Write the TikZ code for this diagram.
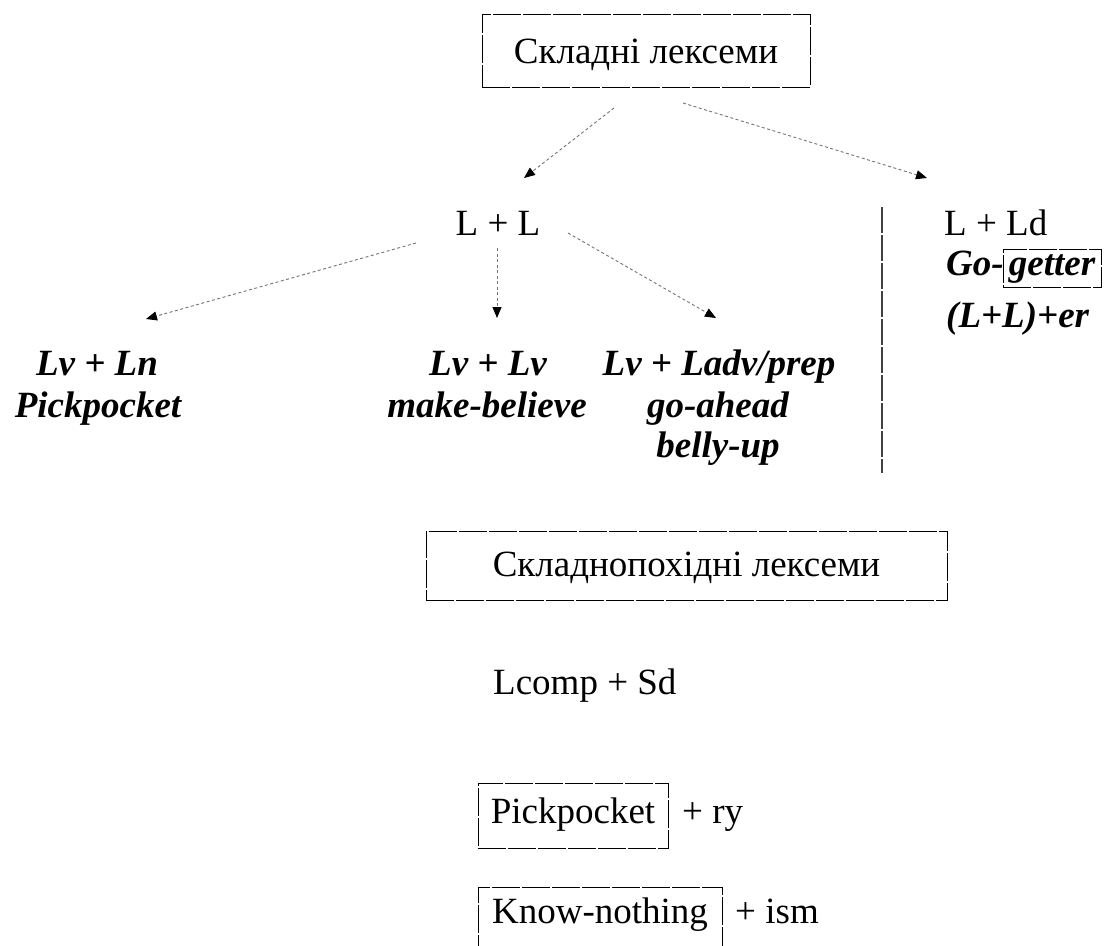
\documentclass[tikz,border=0pt]{standalone}
\usepackage{fontspec}
\setmainfont{Liberation Serif}
\usetikzlibrary{arrows.meta}
\begin{document}
\begin{tikzpicture}[x=1pt,y=-1pt,
  lbl/.style={inner sep=0pt, font=\fontsize{37}{41}\selectfont},
  bi/.style={inner sep=0pt, font=\fontsize{37}{41}\selectfont\bfseries\itshape},
  framed/.style={draw=black, line width=1pt, dash pattern=on 28pt off 2pt},
  link/.style={draw=black!55, line width=0.9pt, dash pattern=on 3pt off 2.5pt,
    -{Triangle[length=11pt,width=9pt,color=black]}},
  divider/.style={draw=black!75, line width=1.2pt, dash pattern=on 26pt off 2pt}]
\useasboundingbox (0,0) rectangle (1107,945);
\clip (0,0) rectangle (1107,945);

% headings in frames
\node[lbl, framed, anchor=base, text height=49pt, text depth=24pt,
      minimum width=328pt] (top) at (646,63) {Складні лексеми};
\node[lbl, framed, anchor=base, text height=45pt, text depth=24pt,
      minimum width=521pt] (deriv) at (686.5,576) {Складнопохідні лексеми};

% first level
\node[lbl, anchor=base] (LL) at (498,235) {L + L};
\node[lbl, anchor=base west] (LLd) at (944,235) {L + Ld};
\node[bi, anchor=base west] (go) at (946,275) {Go-};
\node[bi, framed, anchor=base, text height=26pt, text depth=12pt,
      minimum width=98pt] (getter) at (1052,275) {getter};
\node[bi, anchor=base west] (LLer) at (946,327) {(L+L)+er};

% second level
\node[bi, anchor=base] (vn) at (97,375) {Lv + Ln};
\node[bi, anchor=base] (vn1) at (98,417) {Pickpocket};
\node[bi, anchor=base] (vv) at (488,375) {Lv + Lv};
\node[bi, anchor=base] (vv1) at (487,417) {make-believe};
\node[bi, anchor=base] (vp) at (719,375) {Lv + Ladv/prep};
\node[bi, anchor=base] (vp1) at (718,417) {go-ahead};
\node[bi, anchor=base] (vp2) at (718,457) {belly-up};

% derivational compounds
\node[lbl, anchor=base west] (formula) at (493,694) {Lcomp + Sd};
\node[lbl, framed, anchor=base, text height=40pt, text depth=25pt,
      minimum width=190pt] (pp) at (573,823) {Pickpocket};
\node[lbl, anchor=base west] (ry) at (682,823) {+ ry};
\node[lbl, framed, anchor=base, text height=36pt, text depth=28pt,
      minimum width=244pt] (kn) at (600,923) {Know-nothing};
\node[lbl, anchor=base west] (ism) at (735,923) {+ ism};

% connector ends
\coordinate (topA) at (614,108);
\coordinate (LLin) at (524,178);
\coordinate (topB) at (683,103);
\coordinate (LLdin) at (927,178);
\coordinate (LLa) at (416,243);
\coordinate (vnin) at (146,319);
\coordinate (LLb) at (497,248);
\coordinate (vvin) at (497,318);
\coordinate (LLc) at (568,233);
\coordinate (vpin) at (716,318);
\coordinate (divtop) at (882,207);
\coordinate (divbot) at (882,473);

\draw[link] (topA) -- (LLin);
\draw[link] (topB) -- (LLdin);
\draw[link] (LLa) -- (vnin);
\draw[link] (LLb) -- (vvin);
\draw[link] (LLc) -- (vpin);
\draw[divider] (divtop) -- (divbot);
\end{tikzpicture}
\end{document}
